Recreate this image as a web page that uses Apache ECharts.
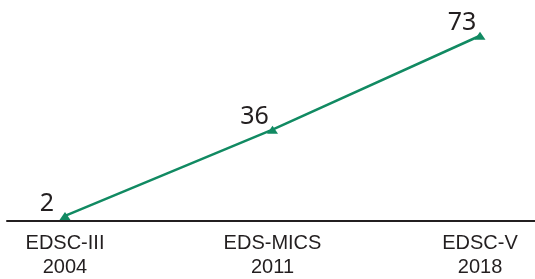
<!DOCTYPE html>
<html>
<head>
<meta charset="utf-8">
<script src="https://cdn.jsdelivr.net/npm/echarts@6/dist/echarts.min.js"></script>
<style>html,body{margin:0;padding:0;background:#fff}#main{width:535px;height:279px}</style>
</head>
<body>
<div id="main"></div>
<script>
// survey names and years
var surveys = ['EDSC-III', 'EDS-MICS', 'EDSC-V'];
var years = ['2004', '2011', '2018'];
var values = [2, 36, 73];

var chart = echarts.init(document.getElementById('main'));
var points = values.map(function (v, i) { return [i, v]; });

var option = {
    animation: false,
    grid: { left: 7, right: 0, top: 18, bottom: 57 },
    xAxis: {
        type: 'value',
        min: -0.2795,
        max: 2.265,
        splitLine: { show: false },
        axisTick: { show: false },
        axisLine: { show: true, lineStyle: { color: '#231f20', width: 2 } },
        axisLabel: {
            customValues: [0, 1, 2],
            margin: 10,
            color: '#231f20',
            fontFamily: '"Liberation Sans", sans-serif',
            fontSize: 20,
            lineHeight: 24,
            formatter: function (v) {
                return surveys[v] + '\n' + years[v];
            }
        }
    },
    yAxis: {
        type: 'value',
        min: 0,
        max: 80,
        show: false
    },
    series: [{
        type: 'line',
        data: points,
        symbol: 'triangle',
        symbolSize: [11, 8],
        lineStyle: { color: '#118a62', width: 2.5 },
        itemStyle: { color: '#118a62' },
        label: {
            show: true,
            position: 'top',
            offset: [-18, 9],
            color: '#231f20',
            fontFamily: '"Noto Sans", sans-serif',
            fontSize: 25,
            formatter: function (p) { return p.value[1]; }
        }
    }]
};

chart.setOption(option);
</script>
</body>
</html>
